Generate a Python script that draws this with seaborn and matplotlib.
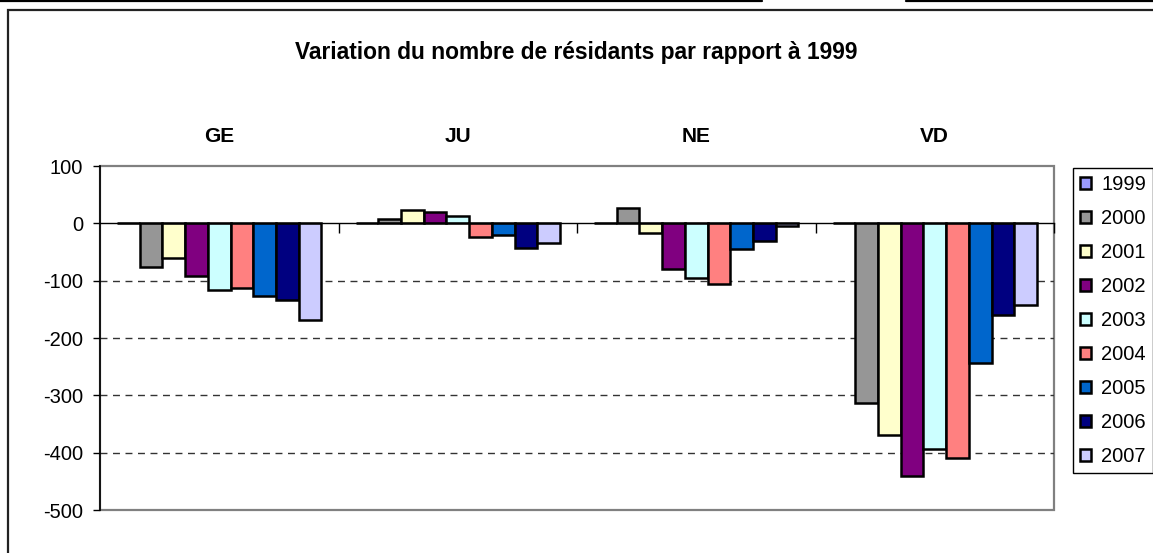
import matplotlib
matplotlib.use('Agg')
import matplotlib.pyplot as plt
from matplotlib.patches import Rectangle
from matplotlib.lines import Line2D
import seaborn as sns
import pandas as pd

# data
Cantons = ['GE', 'JU', 'NE', 'VD']
Years = ['1999', '2000', '2001', '2002', '2003', '2004', '2005', '2006', '2007']
GE = [0, -77, -61, -92, -117, -113, -127, -133, -168]
JU = [0, 8, 24, 19, 13, -24, -21, -43, -34]
NE = [0, 27, -16, -80, -96, -106, -44, -30, -5]
VD = [0, -313, -369, -441, -393, -409, -243, -160, -143]
Colors = ['#9999FF', '#969696', '#FFFFCC', '#800080', '#CCFFFF',
          '#FF8080', '#0066CC', '#000080', '#CCCCFF']

rows = []
for canton, values in zip(Cantons, [GE, JU, NE, VD]):
    for year, v in zip(Years, values):
        rows.append({'canton': canton, 'annee': year, 'variation': v})
mydata = pd.DataFrame(rows)

sns.set_theme(style='white')
plt.rcParams['font.family'] = ['Liberation Sans', 'DejaVu Sans']
plt.rcParams['axes.unicode_minus'] = False
plt.rcParams['text.color'] = 'black'
plt.rcParams['xtick.color'] = 'black'
plt.rcParams['ytick.color'] = 'black'
plt.rcParams['axes.labelcolor'] = 'black'

W, H = 1153, 553
fig = plt.figure(figsize=(W / 100, H / 100), dpi=100)
ax = fig.add_axes([100 / W, 1 - 510 / H, 954 / W, 344 / H])

sns.barplot(data=mydata, x='canton', y='variation', hue='annee',
            palette=Colors, saturation=1, width=9 / 10.5, edgecolor='black',
            linewidth=1.8, errorbar=None, ax=ax, zorder=3)

ax.set_xlim(-0.5, 3.5)
ax.set_ylim(-500, 100)
ax.set_yticks(range(-500, 101, 100))
ax.set_xlabel('')
ax.set_ylabel('')
ax.tick_params(axis='y', labelsize=14.5, length=5, width=1, color='black',
               labelcolor='black', pad=7, left=True, direction='out')

# dashed gridlines
for v in range(-400, 0, 100):
    ax.axhline(v, color='#333333', lw=1, ls=(0, (5, 4)), zorder=1)

# category axis crossing at 0, tick marks between groups
for s in ['top', 'right']:
    ax.spines[s].set_visible(False)
ax.spines['bottom'].set_position(('data', 0))
ax.spines['bottom'].set_color('black')
ax.spines['bottom'].set_linewidth(1)
ax.spines['bottom'].set_zorder(4)
ax.spines['left'].set_color('black')
ax.spines['left'].set_linewidth(1.2)
ax.set_xticks([0.5, 1.5, 2.5, 3.5])
ax.set_xticklabels([])
ax.tick_params(axis='x', bottom=True, length=7, width=1, color='black',
               direction='out')

# plot area border
ax.add_patch(Rectangle((0, 0), 1, 1, transform=ax.transAxes, fill=False,
                       edgecolor='#808080', lw=1.6, clip_on=False, zorder=0))

# group labels above plot area
for i, c in enumerate(Cantons):
    ax.text(i, 1.085, c, transform=ax.get_xaxis_transform(), ha='center',
            va='center', fontsize=15, fontweight='bold', color='black')

fig.text(0.5, 1 - 52 / H, 'Variation du nombre de résidants par rapport à 1999',
         ha='center', va='center', fontsize=16.4, fontweight='bold', color='black')

handles, labels = ax.get_legend_handles_labels()
ax.legend(handles, labels, loc='upper left',
          bbox_to_anchor=(1073 / W, 1 - 168 / H), bbox_transform=fig.transFigure,
          fontsize=14.5, frameon=True, fancybox=False, edgecolor='black',
          framealpha=1, handlelength=0.55, handleheight=0.55,
          handletextpad=0.5, labelspacing=0.745, borderpad=0.35,
          borderaxespad=0, labelcolor='black')
ax.get_legend().get_frame().set_linewidth(1)

# chart frame and page lines
fig.add_artist(Rectangle((8 / W, -0.2), 1.2, 1.2 - 10 / H, transform=fig.transFigure,
                         fill=False, edgecolor='#222222', lw=1.6))
fig.add_artist(Line2D([0, 762 / W], [1 - 1 / H, 1 - 1 / H], transform=fig.transFigure,
                      color='black', lw=1.6))
fig.add_artist(Line2D([906 / W, 1], [1 - 1 / H, 1 - 1 / H], transform=fig.transFigure,
                      color='black', lw=1.6))

plt.savefig('out.png', dpi=100)
